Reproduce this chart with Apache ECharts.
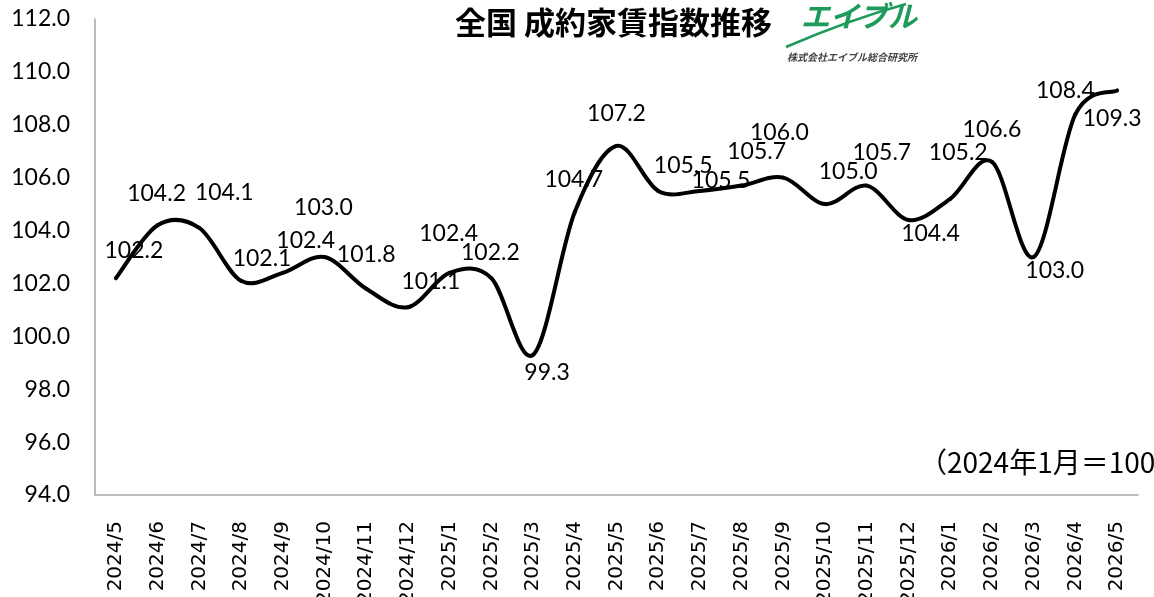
<!DOCTYPE html>
<html>
<head>
<meta charset="utf-8">
<script src="https://cdn.jsdelivr.net/npm/echarts@6/dist/echarts.min.js"></script>
<style>
html,body{margin:0;padding:0;background:#fff;}
#chart{width:1154px;height:597px;}
</style>
</head>
<body>
<div id="chart"></div>
<script>
// ---- data ----
const categories = ['2024/5','2024/6','2024/7','2024/8','2024/9','2024/10','2024/11','2024/12',
  '2025/1','2025/2','2025/3','2025/4','2025/5','2025/6','2025/7','2025/8','2025/9','2025/10',
  '2025/11','2025/12','2026/1','2026/2','2026/3','2026/4','2026/5'];
const rentIndex = [102.2,104.2,104.1,102.1,102.4,103.0,101.8,101.1,
  102.4,102.2,99.3,104.7,107.2,105.5,105.5,105.7,106.0,105.0,
  105.7,104.4,105.2,106.6,103.0,108.4,109.3];
const yTicks = {min: 94, max: 112, step: 2};
const titleText = '全国 成約家賃指数推移';
const noteText = '（2024年1月＝100）';
const logoText = 'エイブル';
const logoSub = '株式会社エイブル総合研究所';

// ---- layout: label nudges (px) relative to each point ----
const labelNudge = [[18,-28],[-1,-32],[25,-35],[21,-22],[23,-32],[-1,-49],[0,-34],[23,-26],
  [-1,-39],[-1,-26],[14,18],[-1,-32],[0,-32],[25,-25],[21,-10],[15,-34],[-4,-45],[23,-33],
  [15,-33],[22,14],[8,-46],[0,-32],[21,14],[-10,-24],[-5,28]];

const chart = echarts.init(document.getElementById('chart'));
const n = rentIndex.length;

// smooth curve (Catmull-Rom style, like spreadsheet smoothing) through the axis scales
function renderSegment(params, api) {
  const i = params.dataIndex;
  if (i >= n - 1) return null;
  const P = k => {
    const kk = Math.max(0, Math.min(n - 1, k));
    return api.coord([kk, rentIndex[kk]]);
  };
  const p0 = P(i - 1), p1 = P(i), p2 = P(i + 1), p3 = P(i + 2);
  const t = 1 / 6;
  return {
    type: 'bezierCurve',
    shape: {
      x1: p1[0], y1: p1[1],
      cpx1: p1[0] + (p2[0] - p0[0]) * t, cpy1: p1[1] + (p2[1] - p0[1]) * t,
      cpx2: p2[0] - (p3[0] - p1[0]) * t, cpy2: p2[1] - (p3[1] - p1[1]) * t,
      x2: p2[0], y2: p2[1]
    },
    style: {stroke: '#000', lineWidth: 4, fill: null, lineCap: 'round', lineJoin: 'round'}
  };
}

chart.setOption({
  animation: false,
  backgroundColor: '#ffffff',
  title: {
    text: titleText,
    left: 450, top: 2,
    textStyle: {fontFamily: '"Noto Sans CJK JP"', fontSize: 31, fontWeight: 'bold', color: '#000'}
  },
  grid: {left: 95, right: 16, top: 19, bottom: 102, outerBoundsMode: 'none', containLabel: false},
  xAxis: {
    type: 'category',
    data: categories,
    boundaryGap: true,
    axisLine: {show: true, lineStyle: {color: '#a6a6a6', width: 1.5}},
    axisTick: {show: false},
    axisLabel: {rotate: 90, margin: 26, fontFamily: '"DejaVu Sans"', fontSize: 20, color: '#000', interval: 0}
  },
  yAxis: {
    type: 'value',
    min: yTicks.min, max: yTicks.max, interval: yTicks.step,
    axisLine: {show: true, lineStyle: {color: '#a6a6a6', width: 1.5}},
    axisTick: {show: false},
    splitLine: {show: false},
    axisLabel: {margin: 25, fontFamily: 'Lato', fontSize: 23, color: '#000',
      formatter: v => v.toFixed(1)}
  },
  series: [{
    type: 'custom',
    data: rentIndex.map((v, i) => [i, v]),
    renderItem: renderSegment,
    encode: {x: 0, y: 1},
    silent: true
  }, {
    type: 'line',
    data: rentIndex,
    symbol: 'circle',
    symbolSize: 1,
    showSymbol: true,
    itemStyle: {color: 'rgba(0,0,0,0)'},
    lineStyle: {opacity: 0},
    label: {
      show: true,
      position: 'inside',
      fontFamily: 'Lato',
      fontSize: 23,
      color: '#000',
      formatter: p => p.value.toFixed(1)
    },
    labelLayout: p => ({dx: labelNudge[p.dataIndex][0], dy: labelNudge[p.dataIndex][1], hideOverlap: false}),
    z: 5
  }],
  graphic: [
    {type: 'bezierCurve', shape: {x1: 786, y1: 47, cpx1: 830, cpy1: 28, cpx2: 870, cpy2: 14, x2: 906, y2: 4},
     style: {stroke: '#1e9b5b', lineWidth: 2.5, fill: null}},
    {type: 'text', left: 801, top: 1,
     style: {text: logoText, fontFamily: '"Noto Sans CJK JP"', fontSize: 29, fontWeight: 'bold', fontStyle: 'italic', fill: '#1e9b5b'}},
    {type: 'text', left: 787, top: 52,
     style: {text: logoSub, fontFamily: '"Noto Sans CJK JP"', fontSize: 10, fontWeight: 'bold', fontStyle: 'italic', fill: '#444'}},
    {type: 'text', x: 919, y: 448,
     style: {text: noteText, fontFamily: '"Noto Sans CJK JP"', fontSize: 28, fill: '#000'}}
  ]
});
</script>
</body>
</html>
